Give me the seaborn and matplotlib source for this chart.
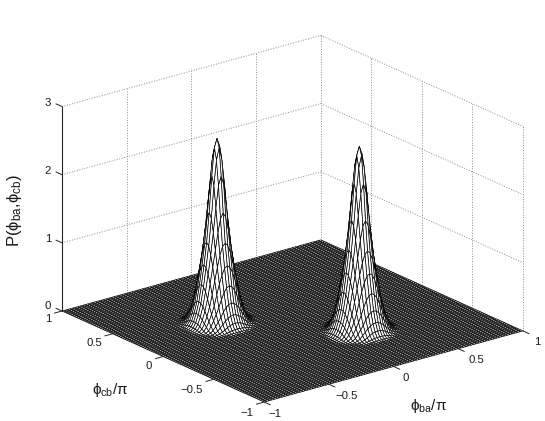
import matplotlib
matplotlib.use('AGG')
import matplotlib.pyplot as plt
import numpy as np
import seaborn as sns
from mpl_toolkits.mplot3d import proj3d

# radial profile of one peak (distance in phi/pi units)
perfil_r = [0.0, 0.02, 0.04, 0.06, 0.08, 0.10, 0.12, 0.14, 0.16, 0.18, 0.20, 0.22, 0.24]
perfil_p = [2.70, 2.58, 2.18, 1.65, 1.22, 0.90, 0.62, 0.38, 0.22, 0.11, 0.04, 0.01, 0.0]
# peak centres (phi_ba, phi_cb)
picos_ba = [-0.38, 0.22]
picos_cb = [0.26, -0.38]

marcas_ejes = [-1, -0.5, 0, 0.5, 1]
marcas_z = [0, 1, 2, 3]
etiquetas_z = ['0', '1', '2', '3']
etiquetas_ba = ['\u22121', '\u22120.5', '0', '0.5', '1']
etiquetas_cb = ['\u22121', '\u22120.5', '0', '0.5', '1']
n_malla = 101

W, H = 545, 421
GRIS = '#8c8c8c'

sns.set_theme(style='white')
plt.rcParams['font.family'] = ['Liberation Sans', 'DejaVu Sans']
plt.rcParams['mathtext.fontset'] = 'custom'
plt.rcParams['mathtext.rm'] = 'Liberation Sans'
plt.rcParams['mathtext.it'] = 'Liberation Sans'
plt.rcParams['mathtext.fallback'] = 'stixsans'

fig = plt.figure(figsize=(W / 100, H / 100), dpi=100)
ax = fig.add_axes([0, 0, 1, 1], projection='3d', proj_type='ortho')
ax.view_init(elev=20.6, azim=-128.0)
ax.set_box_aspect((1, 1, 0.665))
ax.set_xlim(-1, 1)
ax.set_ylim(-1, 1)
ax.set_zlim(0, 3)
ax.set_axis_off()
ax.computed_zorder = False
ax.patch.set_alpha(0)


def a_pixel(x, y, z):
    u, v, _ = proj3d.proj_transform(x, y, z, ax.get_proj())
    return ax.transData.transform((u, v))


# fit the axes box so the floor corners land where they are in the picture
fig.canvas.draw()
p1 = a_pixel(-1, 1, 0)
p2 = a_pixel(1, -1, 0)
lado = fig.bbox.height * ax.get_position().height
lado = lado * (523 - 62) / (p2[0] - p1[0])
ax.set_position([0, 0, lado / W, lado / H])
ax.apply_aspect()
p1 = a_pixel(-1, 1, 0)
dx = (62 - p1[0]) / W
dy = ((H - 311) - p1[1]) / H
ax.set_position([dx, dy, lado / W, lado / H])

# back walls
for x in marcas_ejes[1:]:
    ax.plot([x, x], [1, 1], [0, 3], ':', color=GRIS, lw=0.7, zorder=1)
for y in marcas_ejes[:-1]:
    ax.plot([1, 1], [y, y], [0, 3], ':', color=GRIS, lw=0.7, zorder=1)
for z in marcas_z[1:]:
    ax.plot([-1, 1], [1, 1], [z, z], ':', color=GRIS, lw=0.7, zorder=1)
    ax.plot([1, 1], [1, -1], [z, z], ':', color=GRIS, lw=0.7, zorder=1)

malla = np.linspace(-1, 1, n_malla)
X, Y = np.meshgrid(malla, malla)
Z = np.zeros_like(X)
for cx, cy in zip(picos_ba, picos_cb):
    Z = Z + np.interp(np.hypot(X - cx, Y - cy), perfil_r, perfil_p)
ax.plot_surface(X, Y, Z, rstride=1, cstride=1, color='white', edgecolor='black',
                linewidth=0.48, shade=False, antialiased=True, zorder=2)

# axis lines and ticks
NEGRO = '#262626'
ax.plot([-1, -1], [1, 1], [0, 3], color=NEGRO, lw=0.8, zorder=3)
for z in marcas_z:
    ax.plot([-1, -1], [1, 1.06], [z, z], color=NEGRO, lw=0.7, zorder=3)
for x in marcas_ejes:
    ax.plot([x, x], [-1, -1.06], [0, 0], color=NEGRO, lw=0.7, zorder=3)
for y in marcas_ejes:
    ax.plot([-1, -1.06], [y, y], [0, 0], color=NEGRO, lw=0.7, zorder=3)


def texto(px, py, s, **kw):
    kw.setdefault('fontsize', 8.2)
    fig.text(px / W, 1 - py / H, s, ha='center', va='center', color='#1a1a1a', **kw)


for py, s in zip([306, 239, 171, 103], etiquetas_z):
    texto(48, py, s)
for px, py, s in zip([275, 347, 406, 476, 537], [414, 396, 378, 360, 342], etiquetas_ba):
    texto(px, py, s)
for px, py, s in zip([247, 192, 149, 94, 48], [413, 390, 366, 343, 319], etiquetas_cb):
    texto(px, py, s)

texto(428, 406, r'$\phi_{ba}/\pi$', fontsize=11)
texto(110, 390, r'$\phi_{cb}/\pi$', fontsize=11)
texto(14, 211, r'$\mathrm{P(\phi_{ba}{,}\phi_{cb})}$', fontsize=12, rotation=90)

fig.savefig('out.png', dpi=100)
